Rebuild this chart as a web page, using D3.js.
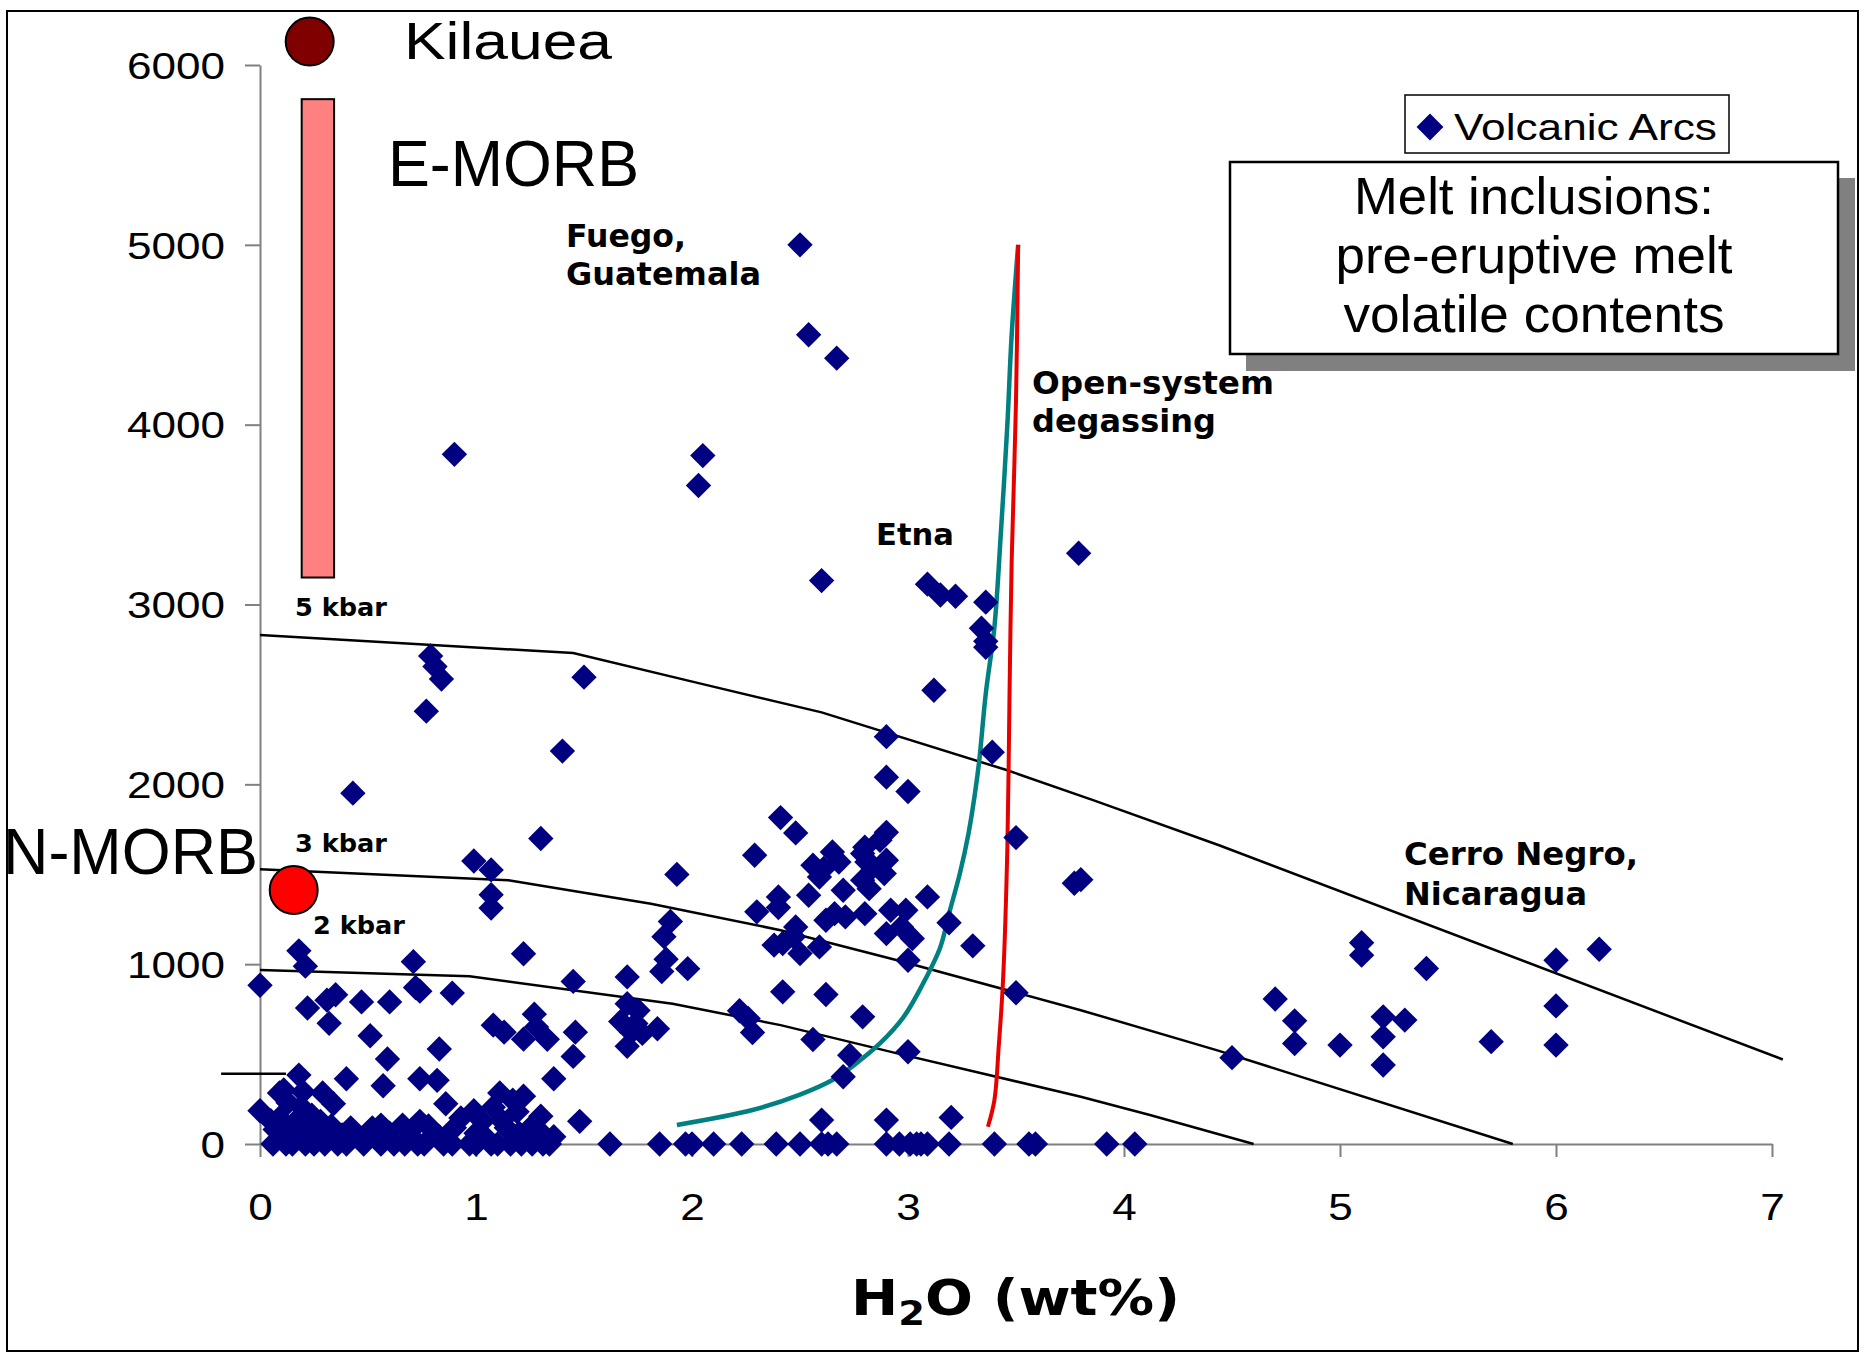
<!DOCTYPE html>
<html>
<head>
<meta charset="utf-8">
<script src="https://cdn.jsdelivr.net/npm/d3@7"></script>
<style>
  html, body { margin: 0; padding: 0; background: #fff; }
  svg { display: block; }
</style>
</head>
<body>
<svg id="chart" width="1864" height="1354"></svg>
<script>
// ---- Axis ticks ----
const xTicks = [0, 1, 2, 3, 4, 5, 6, 7];
const yTicks = [0, 1000, 2000, 3000, 4000, 5000, 6000];

// ---- Volcanic arc melt inclusions: [H2O wt%, CO2 ppm] ----
// degassed / low-CO2 inclusions
const arcsDegassed = [
  [0.06,0],[0.12,0],[0.15,0],[0.21,0],[0.25,0],[0.30,0],[0.36,0],[0.40,0],[0.48,0],[0.56,0],
  [0.62,0],[0.67,0],[0.73,0],[0.76,0],[0.85,0],[0.89,0],[0.97,0],[1.00,0],[1.07,0],[1.10,0],
  [1.16,0],[1.21,0],[1.26,0],[1.31,0],[1.34,0],[1.62,0],[1.85,0],[1.97,0],[2.00,0],[2.10,0],
  [2.23,0],[2.39,0],[2.50,0],[2.60,0],[2.63,0],[2.67,0],[2.90,0],[2.96,0],[3.01,0],[3.04,0],
  [3.06,0],[3.09,0],[3.19,0],[3.40,0],[3.56,0],[3.59,0],[3.92,0],[4.05,0],
  [0,185],[0.05,130],[0.07,80],[0.09,145],[0.09,284],[0.11,300],[0.12,60],[0.13,230],[0.15,50],
  [0.16,120],[0.18,383],[0.19,207],[0.20,290],[0.20,30],[0.22,110],[0.24,160],[0.26,90],[0.28,126],
  [0.29,284],[0.30,60],[0.33,100],[0.34,224],[0.38,50],[0.40,363],[0.42,90],[0.45,40],[0.50,60],
  [0.52,90],[0.56,105],[0.57,324],[0.60,60],[0.66,105],[0.70,40],[0.74,126],[0.74,363],[0.78,100],
  [0.82,354],[0.83,40],[0.86,224],[0.90,90],[0.93,145],[0.99,185],[1.00,60],[1.03,126],[1.05,30],
  [1.08,205],[1.11,284],[1.12,130],[1.14,90],[1.17,244],[1.19,180],[1.20,60],[1.22,266],[1.25,40],
  [1.26,100],[1.30,155],[1.32,40],[1.36,40],[1.36,363],[1.48,126],
  [2.60,133],[2.70,374],[2.90,133],[3.20,148]
];
// H2O below ~1.6 wt%
const arcsLowH2O = [
  [0,883],[0.18,1074],[0.21,989],[0.22,756],[0.31,800],[0.32,671],[0.35,830],[0.43,1951],[0.47,790],
  [0.51,602],[0.59,473],[0.60,790],[0.71,1014],[0.72,870],[0.74,850],[0.77,2407],[0.79,2714],
  [0.81,2655],[0.83,528],[0.84,2586],[0.89,839],[0.90,3835],[0.99,1574],[1.07,1312],[1.07,1386],
  [1.07,1524],[1.08,661],[1.13,622],[1.22,583],[1.22,1058],[1.27,722],[1.28,651],[1.30,1699],
  [1.33,582],[1.40,2185],[1.45,487],[1.45,904],[1.46,622],[1.50,2596]
];
// H2O 1.6 - 4 wt% (incl. Fuego and Etna)
const arcsMidH2O = [
  [1.67,681],[1.70,543],[1.70,780],[1.70,929],[1.72,622],[1.74,670],[1.75,742],[1.77,615],[1.84,641],
  [1.86,959],[1.87,1153],[1.88,1028],[1.90,1237],[1.93,1499],[1.98,975],[2.03,3662],[2.05,3828],
  [2.22,741],[2.26,698],[2.28,620],[2.29,1606],[2.30,1291],[2.38,1106],[2.40,1315],[2.40,1374],
  [2.41,1815],[2.42,846],[2.42,1115],[2.47,1152],[2.48,1207],[2.48,1730],[2.50,1059],[2.50,5000],
  [2.54,1383],[2.54,4500],[2.56,581],[2.56,1550],[2.59,1096],[2.59,1485],[2.60,3133],[2.61,1532],
  [2.62,831],[2.62,1244],[2.65,1624],[2.66,1281],[2.67,4370],[2.68,1568],[2.70,1411],[2.71,1263],
  [2.73,494],[2.79,707],[2.79,1467],[2.79,1615],[2.80,1281],[2.80,1650],[2.81,1568],[2.82,1420],
  [2.84,1541],[2.87,1689],[2.89,1504],[2.90,1170],[2.90,1578],[2.90,1733],[2.90,2040],[2.90,2265],
  [2.92,1300],[2.97,1207],[2.99,1300],[3.00,513],[3.00,1022],[3.00,1960],[3.02,1143],[3.09,1374],
  [3.09,3113],[3.12,2523],[3.15,3053],[3.19,1230],[3.22,3046],[3.30,1102],[3.34,2868],[3.36,2762],
  [3.36,2795],[3.36,3013],[3.39,2179],[3.50,841],[3.50,1704],[3.77,1450],[3.79,3285],[3.80,1470]
];
// H2O above 4 wt% (Cerro Negro)
const arcsHighH2O = [
  [4.50,480],[4.70,806],[4.79,685],[4.79,559],[5.00,550],[5.10,1119],[5.10,1050],[5.20,707],
  [5.20,596],[5.20,439],[5.30,689],[5.40,976],[5.70,569],[6.00,1022],[6.00,768],[6.00,550],[6.20,1083]
];

// ---- CO2-H2O solubility isobars ----
const isobar5kbar = [[0,2830],[1.45,2730],[2.04,2560],[2.6,2400],[3.46,2078],[3.86,1911],[4.44,1661],[7.05,470]];
const isobar3kbar = [[0,1528],[1.15,1466],[1.81,1336],[2.41,1189],[2.95,1022],[3.80,744],[4.44,518],[5.8,0]];
const isobar2kbar = [[0,968],[0.97,933],[1.91,780],[2.41,661],[2.95,504],[3.80,263],[4.12,161],[4.6,0]];
const isobar1kbarStub = [[-0.18,390],[0.12,390]];

// ---- Degassing paths ----
const closedSystemPath = [
  [1.93,106],[2.28,189],[2.50,275],[2.65,356],[2.76,448],[2.87,559],[2.98,707],[3.07,893],[3.15,1096],
  [3.19,1281],[3.24,1504],[3.28,1726],[3.31,1950],[3.33,2133],[3.36,2504],[3.40,2874],[3.43,3400],
  [3.46,4000],[3.48,4500],[3.51,5000]
];
const openSystemPath = [
  [3.37,96],[3.40,244],[3.42,541],[3.44,911],[3.46,1650],[3.47,2500],[3.48,3244],[3.50,4133],[3.51,5000]
];

// ---- Reference compositions ----
const kilauea = [0.23, 6130];
const nMorb = [0.156, 1412];
const eMorbH2O = [0.193, 0.343];
const eMorbCO2 = [3150, 5810];

// ---- Scales ----
const svg = d3.select("#chart");
const x = d3.scaleLinear().domain([0, 7]).range([260, 1772]);
const y = d3.scaleLinear().domain([0, 6000]).range([1144, 65]);

// outer chart frame
svg.append("rect")
  .attr("x", 7).attr("y", 11).attr("width", 1851).attr("height", 1340)
  .attr("fill", "#fff").attr("stroke", "#000").attr("stroke-width", 2);

// helper for stretched text
function txt(g, s, opts) {
  const t = g.append("text")
    .attr("x", opts.x).attr("y", opts.y)
    .attr("font-family", opts.family || "'Liberation Sans', Arial, sans-serif")
    .attr("font-size", opts.size)
    .attr("font-weight", opts.weight || "normal")
    .attr("text-anchor", opts.anchor || "start")
    .attr("fill", "#000")
    .text(s);
  if (opts.width) t.attr("textLength", opts.width).attr("lengthAdjust", "spacingAndGlyphs");
  return t;
}

// ---- Axes ----
const yAxis = svg.append("g").attr("transform", `translate(${x(0)},0)`)
  .call(d3.axisLeft(y).tickValues(yTicks).tickSize(15).tickSizeOuter(0).tickFormat(d3.format("d")));
const xAxis = svg.append("g").attr("transform", `translate(0,${y(0)})`)
  .call(d3.axisBottom(x).tickValues(xTicks).tickSize(13).tickSizeOuter(0).tickFormat(d3.format("d")));
[yAxis, xAxis].forEach(a => {
  a.select(".domain").attr("stroke", "#808080").attr("stroke-width", 2);
  a.selectAll(".tick line").attr("stroke", "#808080").attr("stroke-width", 2);
  a.selectAll(".tick text")
    .attr("font-family", "'Liberation Sans', Arial, sans-serif")
    .attr("font-size", 37).attr("fill", "#000")
    .attr("lengthAdjust", "spacingAndGlyphs")
    .attr("textLength", function () { return this.textContent.length * 24.5; });
});
yAxis.selectAll(".tick text").attr("x", -35).attr("dy", "0.36em");
xAxis.selectAll(".tick text").attr("y", 76).attr("dy", null);

// ---- Isobars ----
const line = d3.line().x(d => x(d[0])).y(d => y(d[1]));
const plot = svg.append("g");
[isobar5kbar, isobar3kbar, isobar2kbar, isobar1kbarStub].forEach(p => {
  plot.append("path").attr("d", line(p)).attr("fill", "none")
    .attr("stroke", "#000").attr("stroke-width", 2.5);
});

// ---- Degassing paths ----
const smooth = d3.line().x(d => x(d[0])).y(d => y(d[1])).curve(d3.curveCatmullRom.alpha(0.5));
plot.append("path").attr("d", smooth(closedSystemPath)).attr("fill", "none")
  .attr("stroke", "#008080").attr("stroke-width", 4.5);
plot.append("path").attr("d", smooth(openSystemPath)).attr("fill", "none")
  .attr("stroke", "#e60000").attr("stroke-width", 4);

// ---- Volcanic arc diamonds ----
const diamondType = {
  draw(ctx, size) {
    const r = Math.sqrt(size / 2);
    ctx.moveTo(0, -r); ctx.lineTo(r, 0); ctx.lineTo(0, r); ctx.lineTo(-r, 0); ctx.closePath();
  }
};
const diamond = d3.symbol().type(diamondType).size(322);
const allArcs = [].concat(arcsDegassed, arcsLowH2O, arcsMidH2O, arcsHighH2O);
plot.append("g").selectAll("path").data(allArcs).join("path")
  .attr("transform", d => `translate(${x(d[0])},${y(d[1])})`)
  .attr("d", diamond).attr("fill", "#000080");

// ---- Reference compositions ----
plot.append("rect")
  .attr("x", x(eMorbH2O[0])).attr("width", x(eMorbH2O[1]) - x(eMorbH2O[0]))
  .attr("y", y(eMorbCO2[1])).attr("height", y(eMorbCO2[0]) - y(eMorbCO2[1]))
  .attr("fill", "#ff8080").attr("stroke", "#000").attr("stroke-width", 2);
plot.append("circle").attr("cx", x(kilauea[0])).attr("cy", y(kilauea[1])).attr("r", 24)
  .attr("fill", "#800000").attr("stroke", "#000").attr("stroke-width", 2);
plot.append("circle").attr("cx", x(nMorb[0])).attr("cy", y(nMorb[1])).attr("r", 24)
  .attr("fill", "#ff0000").attr("stroke", "#000").attr("stroke-width", 2);

// ---- Annotations ----
const ann = svg.append("g");
const bold = "'DejaVu Sans', Verdana, sans-serif";
txt(ann, "Kilauea", { x: 404, y: 59, size: 52, width: 208 });
txt(ann, "E-MORB", { x: 388, y: 186, size: 64, width: 251 });
txt(ann, "N-MORB", { x: 3, y: 874, size: 64, width: 255 });
txt(ann, "Fuego,", { x: 566, y: 247, size: 32, weight: "bold", family: bold, width: 120 });
txt(ann, "Guatemala", { x: 566, y: 285, size: 32, weight: "bold", family: bold, width: 195 });
txt(ann, "Open-system", { x: 1032, y: 394, size: 32, weight: "bold", family: bold, width: 242 });
txt(ann, "degassing", { x: 1032, y: 432, size: 32, weight: "bold", family: bold });
txt(ann, "Etna", { x: 876, y: 545, size: 31, weight: "bold", family: bold, width: 78 });
txt(ann, "Cerro Negro,", { x: 1404, y: 865, size: 32, weight: "bold", family: bold, width: 234 });
txt(ann, "Nicaragua", { x: 1404, y: 905, size: 32, weight: "bold", family: bold });
txt(ann, "5 kbar", { x: 295, y: 616, size: 25, weight: "bold", family: bold, width: 92 });
txt(ann, "3 kbar", { x: 295, y: 852, size: 25, weight: "bold", family: bold, width: 92 });
txt(ann, "2 kbar", { x: 313, y: 934, size: 25, weight: "bold", family: bold, width: 92 });

// ---- Legend ----
const leg = svg.append("g");
leg.append("rect").attr("x", 1405).attr("y", 95).attr("width", 324).attr("height", 58)
  .attr("fill", "#fff").attr("stroke", "#000").attr("stroke-width", 1.5);
leg.append("path").attr("transform", "translate(1430,127)")
  .attr("d", d3.symbol().type(diamondType).size(360)).attr("fill", "#000080");
txt(leg, "Volcanic Arcs", { x: 1454, y: 140, size: 37, width: 263 });

// ---- Title box ----
const box = svg.append("g");
box.append("rect").attr("x", 1246).attr("y", 178).attr("width", 609).attr("height", 193).attr("fill", "#808080");
box.append("rect").attr("x", 1230).attr("y", 162).attr("width", 608).attr("height", 192)
  .attr("fill", "#fff").attr("stroke", "#000").attr("stroke-width", 2.5);
txt(box, "Melt inclusions:", { x: 1534, y: 214, size: 52, anchor: "middle", width: 360 });
txt(box, "pre-eruptive melt", { x: 1534, y: 273, size: 52, anchor: "middle", width: 397 });
txt(box, "volatile contents", { x: 1534, y: 332, size: 52, anchor: "middle", width: 381 });

// ---- X axis title ----
const xt = svg.append("text")
  .attr("x", 851).attr("y", 1315)
  .attr("font-family", bold).attr("font-weight", "bold").attr("font-size", 50)
  .attr("textLength", 329).attr("lengthAdjust", "spacingAndGlyphs");
xt.append("tspan").text("H");
xt.append("tspan").attr("font-size", 34).attr("dy", 10).text("2");
xt.append("tspan").attr("dy", -10).text("O (wt%)");
</script>
</body>
</html>
